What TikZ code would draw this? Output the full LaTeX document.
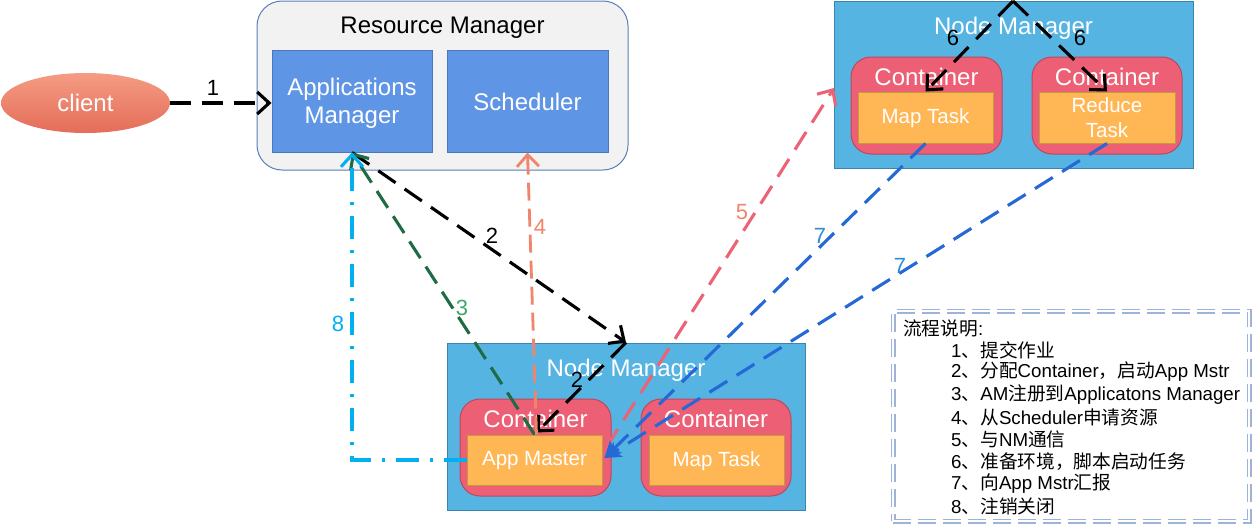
\documentclass[tikz,border=0pt]{standalone}
\usepackage{fontspec}
\setmainfont{Liberation Sans}
\newfontfamily\cjk{Noto Sans CJK SC}
\usetikzlibrary{arrows.meta,calc,shapes.geometric}

\definecolor{rmfill}{HTML}{F2F2F2}
\definecolor{rmline}{HTML}{5B7EB8}
\definecolor{amfill}{HTML}{5F95E5}
\definecolor{amline}{HTML}{4A78C0}
\definecolor{nmfill}{HTML}{56B4E3}
\definecolor{nmline}{HTML}{3C84AE}
\definecolor{ctfill}{HTML}{EC5F74}
\definecolor{ctline}{HTML}{B84A5E}
\definecolor{tkfill}{HTML}{FFB655}
\definecolor{tkline}{HTML}{C39A3E}
\definecolor{cltop}{HTML}{F59C84}
\definecolor{clbot}{HTML}{E46D58}
\definecolor{agreen}{HTML}{1F6B45}
\definecolor{lgreen}{HTML}{3DAA6B}
\definecolor{asalmon}{HTML}{F0856B}
\definecolor{apink}{HTML}{EB6374}
\definecolor{ablue}{HTML}{2469D6}
\definecolor{lblue}{HTML}{2E8BD6}
\definecolor{acyan}{HTML}{00B0F0}
\definecolor{lgline}{HTML}{9DB3DA}

\newcommand{\szbig}{\fontsize{24}{28}\selectfont}
\newcommand{\sztask}{\fontsize{20.5}{25}\selectfont}
\newcommand{\szlab}{\fontsize{22}{26}\selectfont}
\newcommand{\szleg}{\fontsize{18.7}{22}\selectfont}

\tikzset{
  box/.style={draw, line width=1pt, inner sep=0pt, align=center, text=white},
  rmbox/.style={box, fill=rmfill, draw=rmline, rounded corners=25pt},
  ambox/.style={box, fill=amfill, draw=amline},
  nmbox/.style={box, fill=nmfill, draw=nmline},
  ctbox/.style={box, fill=ctfill, draw=ctline, rounded corners=20pt},
  tkbox/.style={box, fill=tkfill, draw=tkline},
  wtitle/.style={text=white, font=\szbig, inner sep=0pt, align=center},
  ttext/.style={text=white, font=\sztask, inner sep=0pt, align=center},
  barb/.style={-{Straight Barb[length=12pt,width=22pt]}},
  flow/.style={line width=3.1pt, dash pattern=on 21pt off 11pt, barb},
  lab/.style={font=\szlab, inner sep=0pt},
  legline/.style={anchor=west, font=\szleg, inner sep=0pt},
}

\begin{document}
\begin{tikzpicture}[x=1pt,y=-1pt]
\useasboundingbox (0,0) rectangle (1252,525);

% Resource Manager
\node[rmbox, minimum width=371pt, minimum height=169pt] (rm) at (442.5,85.5) {};
\node[inner sep=0pt, font=\szbig] (rmt) at (442.5,28) {Resource Manager};
\node[ambox, minimum width=160pt, minimum height=102pt] (am) at (352,101) {};
\node[wtitle] (amt) at (352,103) {Applications\\Manager};
\node[ambox, minimum width=161pt, minimum height=102pt] (sch) at (527.5,101) {};
\node[wtitle] (scht) at (527.5,102) {Scheduler};

% client
\node[ellipse, minimum width=169pt, minimum height=60pt, inner sep=0pt,
      top color=cltop, bottom color=clbot, draw=none, text=white, font=\szbig]
      (client) at (85.5,103) {client};

% Node Manager (top right)
\node[nmbox, minimum width=359pt, minimum height=167pt] (nm1) at (1013.5,84.5) {};
\node[wtitle] (nm1t) at (1013.5,28) {Node Manager};
\node[ctbox, minimum width=151pt, minimum height=97pt] (c1) at (926.5,105.5) {};
\node[wtitle] (c1t) at (926.5,77) {Container};
\node[tkbox, minimum width=135pt, minimum height=51pt] (mt1) at (925.5,117.5) {};
\node[ttext] (mt1t) at (925.5,118.5) {Map Task};
\node[ctbox, minimum width=150pt, minimum height=97pt] (c2) at (1107,105.5) {};
\node[wtitle] (c2t) at (1107,77) {Container};
\node[tkbox, minimum width=136pt, minimum height=51pt] (rt) at (1107,117.5) {};
\node[ttext] (rtt) at (1107,118) {Reduce\\Task};

% Node Manager (bottom)
\node[nmbox, minimum width=358pt, minimum height=167pt] (nm2) at (626,426.5) {};
\node[wtitle] (nm2t) at (626,370) {Node Manager};
\node[ctbox, minimum width=151pt, minimum height=97pt] (c3) at (535.5,447.5) {};
\node[wtitle] (c3t) at (535.5,419) {Container};
\node[tkbox, minimum width=135pt, minimum height=50pt] (amst) at (534.5,460) {};
\node[ttext] (amstt) at (534.5,461) {App Master};
\node[ctbox, minimum width=150pt, minimum height=97pt] (c4) at (716,447.5) {};
\node[wtitle] (c4t) at (716,419) {Container};
\node[tkbox, minimum width=135pt, minimum height=50pt] (mt2) at (716.5,460) {};
\node[ttext] (mt2t) at (716.5,461) {Map Task};

% helper points
\coordinate (apex) at (1013,1);
\coordinate (p5) at ($(amst.east)+(4,-13)$);
\coordinate (p5end) at (834,88);

% 1: submit
\draw[flow] (client.east) -- (am.west |- client.east);
\node[lab] (l1) at (213,88) {1};

% 2: allocate container
\draw[flow] (am.south) -- (nm2.north);
\draw[flow] (nm2.north) -- ($(amst.north)+(2,-2)$);
\node[lab] (l2a) at (492,236) {2};
\node[lab] (l2b) at (577,380) {2};

% 3: register with Applications Manager
\draw[flow, agreen, dash pattern=on 20pt off 10pt] (amst.north) -- (am.south);
\node[lab, text=lgreen] (l3) at (462,308) {3};

% 4: request resources
\draw[flow, asalmon, line width=2.8pt, dash pattern=on 18pt off 8pt] ($(amst.north)+(2,0)$) -- (sch.south);
\node[lab, text=asalmon] (l4) at (540,227) {4};

% 5: talk to NM
\draw[flow, apink] (p5) -- (p5end);
\node[lab, text=asalmon] (l5) at (742,212) {5};

% 6: launch tasks
\draw[flow] (apex) -- (mt1.north);
\draw[flow] (apex) -- (rt.north);
\node[lab] (l6a) at (953,38) {6};
\node[lab] (l6b) at (1080,38) {6};

% 7: report to App Master
\tikzset{rep/.style={line width=3.1pt, ablue, dash pattern=on 21pt off 11pt,
   -{Stealth[length=16pt,width=17pt,inset=4pt]}}}
\draw[rep] (mt1.south) -- ($(amst.east)+(2,-2)$);
\draw[rep] (rt.south) -- ($(amst.east)+(2,-2)$);
\node[lab, text=lblue] (l7a) at (820,236) {7};
\node[lab, text=lblue] (l7b) at (900,266) {7};

% 8: unregister
\draw[acyan, line width=3.1pt, dash pattern=on 23pt off 11pt on 3pt off 11pt, barb]
      (amst.west) -| (am.south);
\node[lab, text=acyan] (l8) at (338,324) {8};

% legend
\node[draw=lgline, line width=1.4pt, double=white, double distance=2.2pt,
      dash pattern=on 18pt off 7pt, minimum width=356pt, minimum height=210pt,
      inner sep=0pt] (legend) at (1071,416) {};
\node[legline] (g0) at (903,328) {{\cjk 流程说明}:};
\node[legline] (g1) at (951,350) {1{\cjk 、提交作业}};
\node[legline] (g2) at (951,372) {2{\cjk 、分配}Container{\cjk ，启动}App Mstr};
\node[legline] (g3) at (951,394.5) {3{\cjk 、}AM{\cjk 注册到}Applicatons Manager};
\node[legline] (g4) at (951,417) {4{\cjk 、从}Scheduler{\cjk 申请资源}};
\node[legline] (g5) at (951,439) {5{\cjk 、与}NM{\cjk 通信}};
\node[legline] (g6) at (951,461.5) {6{\cjk 、准备环境，脚本启动任务}};
\node[legline] (g7) at (951,483.5) {7{\cjk 、向}App Mstr{\cjk 汇报}};
\node[legline] (g8) at (951,506) {8{\cjk 、注销关闭}};
\end{tikzpicture}
\end{document}
